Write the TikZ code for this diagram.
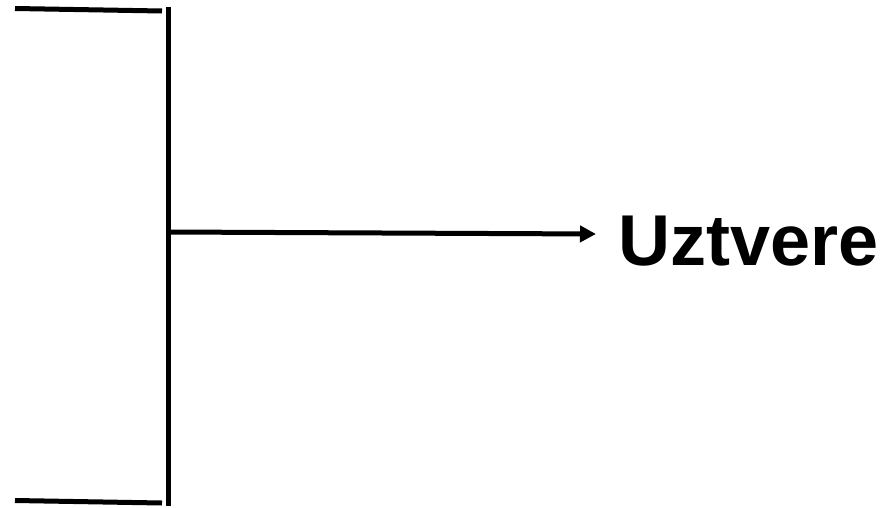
\documentclass[tikz,border=0pt]{standalone}
\usepackage{fontspec}
\setmainfont{Liberation Sans}
\usetikzlibrary{arrows.meta}
\begin{document}
\begin{tikzpicture}[x=1pt,y=-1pt,
  bar/.style={line width=5pt},
  lbl/.style={font=\fontsize{72}{80}\selectfont\bfseries, inner sep=0pt, anchor=base west}]
\useasboundingbox (0,0) rectangle (885,508);
\coordinate (tl) at (15,8.5);
\coordinate (tr) at (162,11);
\coordinate (vt) at (168.5,7);
\coordinate (vb) at (168.5,506);
\coordinate (bl) at (15,500.5);
\coordinate (br) at (162,503);
\coordinate (am) at (168.5,232);
\coordinate (ae) at (596,234);
\node[lbl] (u) at (618,265) {Uztvere};
\draw[bar] (tl) -- (tr);
\draw[bar] (bl) -- (br);
\draw[bar] (vt) -- (vb);
\draw[line width=5pt,-{Triangle[length=16pt,width=16pt]}] (am) -- (ae);
\end{tikzpicture}
\end{document}
